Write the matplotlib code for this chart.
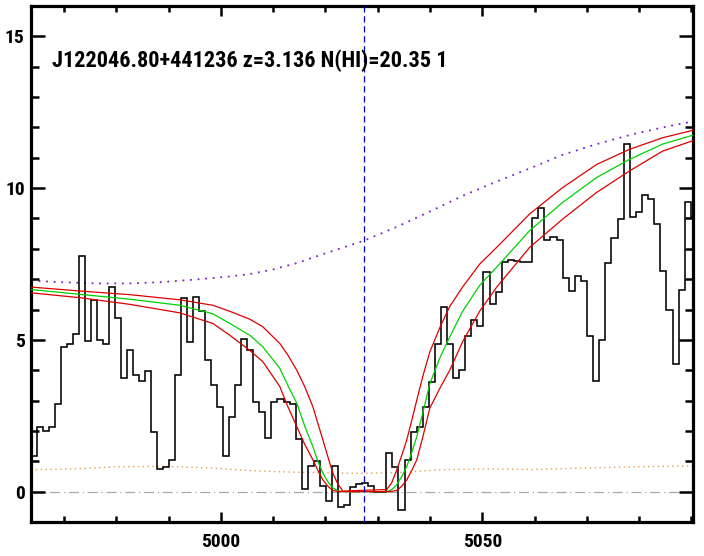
import numpy as np
import matplotlib
matplotlib.use("Agg")
import matplotlib.pyplot as plt
from matplotlib.ticker import MultipleLocator

# ---------------- data ----------------
title_text = "J122046.80+441236 z=3.136 N(HI)=20.35 1"

# observed spectrum (flux per SDSS pixel, log-lambda sampling 1e-4 dex)
first_edge = 4964.9
flux = [1.18, 2.14, 2.00, 2.12, 2.89, 4.75, 4.88, 5.21, 7.77, 4.96,
        6.32, 4.99, 4.88, 6.74, 5.73, 3.75, 4.66, 3.83, 3.63, 3.96,
        1.96, 0.75, 0.80, 1.05, 3.83, 6.39, 4.93, 6.41, 5.94, 4.33,
        3.53, 2.79, 1.18, 2.45, 3.51, 5.03, 4.66, 2.94, 2.62, 1.76,
        2.94, 3.04, 2.94, 2.89, 1.73, 0.09, 0.86, 1.02, 0.17, -0.30,
        0.85, -0.50, -0.45, 0.15, 0.25, 0.30, 0.20, 0.00, 0.00, 1.27,
        0.80, -0.60, 1.05, 1.95, 2.12, 2.80, 3.62, 4.86, 6.08, 4.86,
        3.76, 4.00, 5.13, 5.67, 5.47, 7.25, 6.17, 6.57, 7.56, 7.64,
        7.61, 7.58, 7.58, 9.02, 9.34, 8.30, 8.38, 8.30, 7.05, 6.62,
        7.10, 6.95, 5.14, 3.64, 5.01, 7.54, 8.35, 8.98, 11.44, 9.06,
        9.22, 9.77, 9.64, 8.82, 7.28, 6.00, 4.20, 6.63, 9.55, 9.04]

# DLA model (green) and its +/- error envelopes (red)
model_wl = [4963.70, 4973.07, 4982.62, 4992.18, 4998.49, 5001.74, 5005.56,
            5008.04, 5011.29, 5012.82, 5014.54, 5016.07, 5017.60, 5018.56,
            5019.51, 5020.47, 5021.42, 5022.38, 5023.33, 5031.74, 5032.70,
            5033.65, 5034.61, 5035.57, 5036.52, 5037.48, 5038.63, 5039.96,
            5041.87, 5043.78, 5046.27, 5049.52, 5052.77, 5059.07, 5065.38,
            5071.88, 5078.19, 5084.50, 5090.40]
model_hi = [6.74, 6.61, 6.49, 6.32, 6.14, 5.94, 5.68,
            5.43, 4.88, 4.50, 4.00, 3.45, 2.80, 2.25,
            1.71, 1.15, 0.61, 0.25, 0.02, 0.07, 0.30,
            0.72, 1.20, 1.71, 2.35, 3.02, 3.80, 4.60,
            5.40, 6.10, 6.75, 7.50, 8.05, 9.15, 10.02,
            10.78, 11.28, 11.66, 11.91]
model_mid = [6.66, 6.50, 6.34, 6.14, 5.86, 5.54, 5.15,
             4.77, 4.06, 3.50, 2.91, 2.15, 1.49, 1.00,
             0.61, 0.33, 0.12, 0.03, 0.00, 0.00, 0.07,
             0.23, 0.50, 0.83, 1.30, 1.81, 2.60, 3.55,
             4.40, 5.10, 5.95, 6.80, 7.40, 8.60, 9.53,
             10.35, 10.95, 11.45, 11.75]
model_lo = [6.55, 6.39, 6.17, 5.89, 5.54, 5.15, 4.65,
            4.28, 3.46, 2.80, 2.14, 1.55, 1.05, 0.70,
            0.39, 0.18, 0.04, 0.01, 0.00, 0.00, 0.01,
            0.04, 0.18, 0.39, 0.70, 1.05, 1.80, 2.75,
            3.40, 4.00, 4.95, 5.95, 6.74, 8.05, 8.98,
            9.86, 10.57, 11.22, 11.57]

# purple dotted curve
cont_wl = [4963.7, 4969.4, 4977.0, 4982.6, 4988.4, 4996.0, 5001.7, 5005.6,
           5010.0, 5014.5, 5020.0, 5027.4, 5033.6, 5040.0, 5046.3, 5052.8,
           5059.1, 5065.4, 5071.9, 5078.2, 5084.5, 5090.4]
cont_val = [6.95, 6.90, 6.86, 6.86, 6.90, 7.00, 7.09, 7.17,
            7.32, 7.53, 7.85, 8.27, 8.72, 9.23, 9.75, 10.22,
            10.65, 11.10, 11.45, 11.75, 12.00, 12.20]

# orange dotted error curve
err_wl = [4963.7, 4972.0, 4980.0, 4990.0, 4998.0, 5005.0, 5012.0, 5020.0,
          5027.0, 5034.0, 5042.0, 5050.0, 5060.0, 5070.0, 5080.0, 5090.4]
err_val = [0.72, 0.75, 0.82, 0.83, 0.78, 0.70, 0.65, 0.62,
           0.60, 0.63, 0.72, 0.75, 0.73, 0.78, 0.82, 0.85]

dla_center = 5027.4
xlim = (4963.7, 5090.3)
ylim = (-1.0, 16.0)

# ---------------- drawing ----------------
FONT = ["Roboto Condensed", "DejaVu Sans"]
edges = 10 ** (np.log10(first_edge) + 1e-4 * np.arange(-1, len(flux)))

fig = plt.figure(figsize=(7.04, 5.56), dpi=100)
fig.patch.set_facecolor("white")
ax = fig.add_axes([31 / 704, 34 / 556, 662 / 704, 516 / 556])

ax.axhline(0, color="#a8a8a8", ls=(0, (8, 3, 1, 3)), lw=0.9, zorder=1)
ax.plot(err_wl, err_val, color="#e0a050", ls=(0, (1, 2.5)), lw=1.0, zorder=1)
ax.plot(cont_wl, cont_val, color="#7a20c8", ls=(0, (1, 3.2)), lw=1.3, zorder=1)
ax.stairs(flux, edges, baseline=None, color="black", lw=1.15, zorder=2)
ax.plot(model_wl, model_mid, color="#00d000", lw=0.9, zorder=3)
ax.plot(model_wl, model_hi, color="#dd0000", lw=0.9, zorder=4)
ax.plot(model_wl, model_lo, color="#dd0000", lw=0.9, zorder=4)
ax.axvline(dla_center, color="#0000cc", ls=(0, (5, 3)), lw=0.9, zorder=5)

ax.set_xlim(*xlim)
ax.set_ylim(*ylim)

ax.xaxis.set_major_locator(MultipleLocator(50))
ax.xaxis.set_minor_locator(MultipleLocator(10))
ax.yaxis.set_major_locator(MultipleLocator(5))
ax.yaxis.set_minor_locator(MultipleLocator(1))

ax.tick_params(which="both", direction="in", top=True, right=True,
               width=1.8, color="black")
ax.tick_params(axis="x", which="major", length=7.5, pad=8)
ax.tick_params(axis="x", which="minor", length=4)
ax.tick_params(axis="y", which="major", length=10, pad=4.5)
ax.tick_params(axis="y", which="minor", length=5.5)
for s in ax.spines.values():
    s.set_linewidth(2.3)

for lab in ax.get_xticklabels() + ax.get_yticklabels():
    lab.set_fontfamily(FONT)
    lab.set_fontweight("bold")
    lab.set_fontsize(14)

ax.text(0.032, 0.893, title_text, transform=ax.transAxes, ha="left", va="center",
        fontsize=16, family=FONT, fontweight="bold", color="black", zorder=6)

fig.savefig("out.png", dpi=100, facecolor="white")
